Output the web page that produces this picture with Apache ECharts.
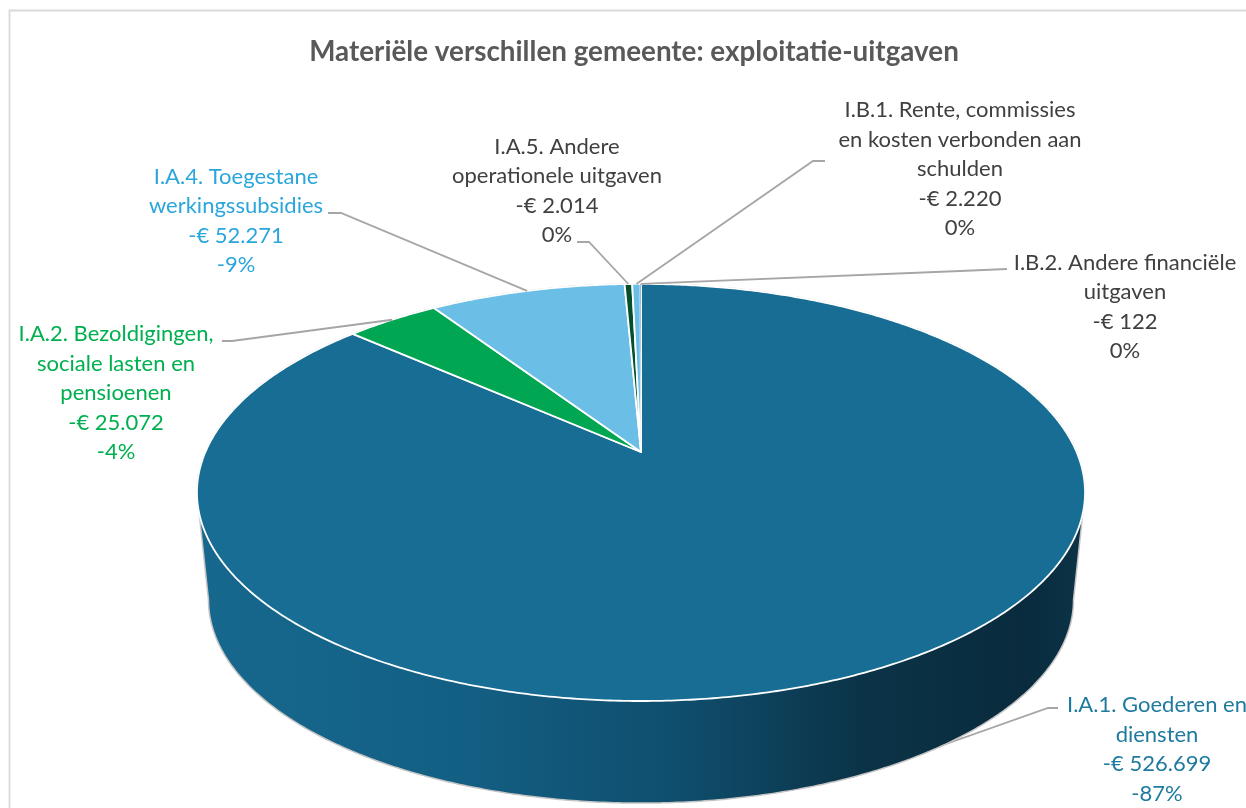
<!DOCTYPE html>
<html><head><meta charset="utf-8">
<style>html,body{margin:0;padding:0;background:#fff}#c{width:1246px;height:808px}</style>
<script src="https://cdn.jsdelivr.net/npm/echarts@6/dist/echarts.min.js"></script>
</head><body><div id="c"></div>
<script>
// ---- data ----
const chartTitle = 'Materiële verschillen gemeente: exploitatie-uitgaven';
const categories = [
  'I.A.1. Goederen en\ndiensten',
  'I.A.2. Bezoldigingen,\nsociale lasten en\npensioenen',
  'I.A.4. Toegestane\nwerkingssubsidies',
  'I.A.5. Andere\noperationele uitgaven',
  'I.B.1. Rente, commissies\nen kosten verbonden aan\nschulden',
  'I.B.2. Andere financiële\nuitgaven'
];
const expenseValues = [526699, 25072, 52271, 2014, 2220, 122];
const amountLabels = ['-€ 526.699', '-€ 25.072', '-€ 52.271', '-€ 2.014', '-€ 2.220', '-€ 122'];
const percentLabels = ['-87%', '-4%', '-9%', '0%', '0%', '0%'];

// ---- styling and layout ----
const sliceColors = ['#176d94', '#00a651', '#6bbfe6', '#04502c', '#6bbfe6', '#17699a'];
const labelColors = ['#1f7a9f', '#00b050', '#2ba6dc', '#404040', '#404040', '#404040'];
const labelCenters = [[1157, 749.5], [116, 393], [236, 221], [557, 191], [960, 169], [1125, 307]];
const leaderElbows = [[[1058, 708], [1048, 708]], [[222, 341], [232, 341]], [[328, 213], [341, 213]],
  [[577, 242], [589, 242]], [[825, 161], [813, 161]], [[1007, 269], [960, 271]]];
const FONT = 'Lato, "Open Sans", sans-serif';

// perspective pie geometry
const P = { cx: 641, cy: 452, A: 435.6, B: 200.7, k: 0.194, wallDy: 107.5, wallScale: 0.974, midY: 492.5 };
const widestDeg = Math.acos(-P.k) * 180 / Math.PI;
function rimPoint(deg) {
  const t = deg * Math.PI / 180, u = Math.sin(t), v = Math.cos(t), w = 1 + P.k * v;
  return [P.cx + P.A * u / w, P.cy - P.B * v / w];
}
function basePoint(deg) {
  const p = rimPoint(deg);
  return [P.cx + P.wallScale * (p[0] - P.cx), P.midY + P.wallDy + P.wallScale * (p[1] - P.midY)];
}
function arc(fn, a, b) {
  const pts = [], n = Math.max(2, Math.ceil(Math.abs(b - a) / 0.5));
  for (let i = 0; i <= n; i++) pts.push(fn(a + (b - a) * i / n));
  return pts;
}
const total = expenseValues.reduce((s, v) => s + v, 0);

function renderSlice(params, api) {
  const i = params.dataIndex, value = api.value(0);
  let before = 0;
  for (let j = 0; j < i; j++) before += expenseValues[j];
  const a0 = before / total * 360, a1 = (before + value) / total * 360, mid = (a0 + a1) / 2;
  const children = [];
  if (i === 0) {
    // hull: back rim of the top, then the visible side wall
    const hull = arc(rimPoint, 360 - widestDeg, 360 + widestDeg).concat(arc(basePoint, widestDeg, 360 - widestDeg));
    children.push({ type: 'polygon', shape: { points: hull }, z2: 1, style: {
      stroke: '#c4c4c4', lineWidth: 1.5,
      fill: new echarts.graphic.LinearGradient(0, 0, 1, 0, [
        { offset: 0, color: '#17688e' }, { offset: 0.3, color: '#135f84' },
        { offset: 0.55, color: '#0f4d6c' }, { offset: 0.75, color: '#0b3347' },
        { offset: 0.93, color: '#092b3d' }, { offset: 1, color: '#0b3347' }])
    } });
  }
  const pts = [[P.cx, P.cy]].concat(arc(rimPoint, a0, a1));
  children.push({ type: 'polygon', shape: { points: pts }, z2: 10 + i, style: {
    fill: sliceColors[i], stroke: '#ffffff', lineWidth: i === 5 ? 0 : 1.8, lineJoin: 'round' } });
  // leader (the one of the big slice runs behind the wall)
  const start = i === 0 ? basePoint(mid) : rimPoint(mid);
  children.push({ type: 'polyline', shape: { points: leaderElbows[i].concat([start]) }, z2: i === 0 ? 0 : 30,
    style: { fill: 'none', stroke: '#a6a6a6', lineWidth: 1.8 } });
  // label
  children.push({ type: 'text', z2: 40, style: {
    x: labelCenters[i][0], y: labelCenters[i][1],
    text: categories[i] + '\n' + amountLabels[i] + '\n' + percentLabels[i],
    fill: labelColors[i], font: '22px ' + FONT, lineHeight: 29.5,
    align: 'center', verticalAlign: 'middle' } });
  return { type: 'group', children };
}

const chart = echarts.init(document.getElementById('c'), null, { renderer: 'canvas' });
chart.setOption({
  animation: false,
  backgroundColor: '#ffffff',
  title: { text: chartTitle, left: 629, top: 33, textAlign: 'center',
    textStyle: { color: '#595959', fontFamily: FONT, fontWeight: 'bold', fontSize: 27.8 } },
  graphic: [{ type: 'rect', silent: true, z: -1,
    shape: { x: 9.5, y: 10.5, width: 1400, height: 1000 },
    style: { fill: 'none', stroke: '#d9d9d9', lineWidth: 1.8 } }],
  series: [{
    type: 'custom', coordinateSystem: 'none', silent: true, clip: false,
    renderItem: renderSlice,
    data: expenseValues.map((v, i) => ({ name: categories[i], value: [v] }))
  }]
});
</script></body></html>
